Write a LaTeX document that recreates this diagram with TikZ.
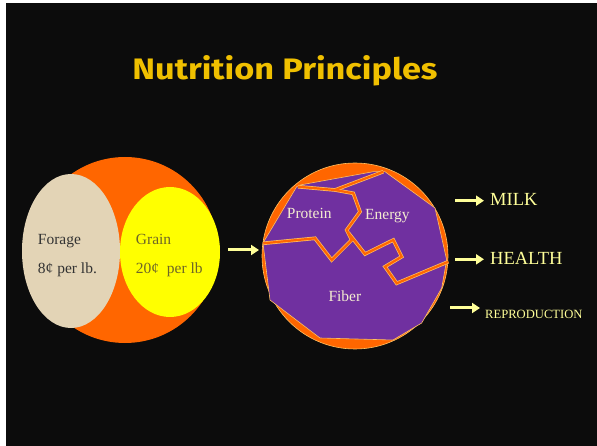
\documentclass[tikz,border=0pt]{standalone}
\usepackage{fontspec}
\setmainfont{Liberation Serif}
\newfontfamily\titlefont{Fira Sans}
\usetikzlibrary{arrows.meta}
\definecolor{bgc}{HTML}{0C0C0C}
\definecolor{titlec}{HTML}{F0C000}
\definecolor{orng}{HTML}{FF6600}
\definecolor{purp}{HTML}{7030A0}
\definecolor{forage}{HTML}{E3D4B6}
\definecolor{grain}{HTML}{FFFF00}
\definecolor{grtext}{HTML}{6E6628}
\definecolor{frtext}{HTML}{333333}
\definecolor{arr}{HTML}{FFFF99}
\definecolor{edge}{HTML}{FFC060}
\definecolor{lbl}{HTML}{F4ECD0}
\tikzset{
  lab/.style={anchor=base west, inner sep=0pt, font=\fontsize{15.5}{18}\selectfont},
  outlab/.style={anchor=base west, inner sep=0pt, text=arr, font=\fontsize{18.5}{22}\selectfont},
  flow/.style={draw=arr, line width=3pt, -{Triangle[length=8pt,width=10pt]}},
  seam/.style={draw=edge, line width=3.6pt, line join=miter},
  seamin/.style={draw=orng, line width=2.2pt, line join=miter}
}
\begin{document}
\begin{tikzpicture}[x=1pt,y=-1pt]
\useasboundingbox (0,0) rectangle (597,446);
\fill[white] (0,0) rectangle (597,446);
\fill[bgc] (6,3) rectangle (597,446);
% title
\node[anchor=base, inner sep=0pt, text=titlec] (title) at (285,80)
  {\resizebox{305pt}{24pt}{\titlefont\bfseries Nutrition Principles}};
% left diagram
\fill[orng] (125,250) circle (93);
\fill[forage] (71,251) ellipse (49 and 77);
\fill[grain] (170,252) ellipse (50 and 65);
\node[lab, text=frtext] (forage) at (37.7,244.3) {Forage};
\node[lab, text=frtext] (fcost) at (37.7,274) {8¢ per lb.};
\node[lab, text=grtext] (grain) at (135.7,244.3) {Grain};
\node[lab, text=grtext] (gcost) at (135.7,274) {20¢\ \ per lb};
% arrow into right diagram
\coordinate (a0) at (228,250);
\coordinate (a1) at (259,250);
\draw[flow] (a0) -- (a1);
% right diagram
\fill[orng] (355,256) circle (93);
\draw[edge, line width=0.6pt] (355,256) circle (93);
\filldraw[fill=purp, draw=edge, line width=0.6pt]
  (300,185) -- (373.3,171.7) -- (385,171.7) -- (435,208) -- (446.7,260)
  -- (441.7,288) -- (421.7,323) -- (393,340) -- (320,338) -- (270,300)
  -- (263,243) -- (296.7,186.7) -- cycle;
\foreach \s in {seam,seamin}{
  \draw[\s] (298,186.7) -- (335,190) -- (353.3,193.3) -- (360,211.7) -- (346.7,230)
    -- (351.7,240) -- (331.7,260) -- (315,238.3) -- (263.3,243.3);
  \draw[\s] (335,190) -- (383.3,171.7);
  \draw[\s] (348.5,233) -- (365,254) -- (393.3,240) -- (401.7,256.7) -- (385,266.7)
    -- (396.7,283.3) -- (448.3,261.7);
}
\node[lab, text=lbl] (protein) at (286.7,218.3) {Protein};
\node[lab, text=lbl] (energy) at (365,220) {Energy};
\node[lab, text=lbl] (fiber) at (328.3,301.7) {Fiber};
% outputs
\coordinate (m0) at (455,200.7); \coordinate (m1) at (484,200.7);
\coordinate (h0) at (455,259.3); \coordinate (h1) at (484,259.3);
\coordinate (r0) at (450,308);   \coordinate (r1) at (480,308);
\draw[flow] (m0) -- (m1);
\draw[flow] (h0) -- (h1);
\draw[flow] (r0) -- (r1);
\node[outlab] (milk) at (490,206) {MILK};
\node[outlab] (health) at (490,265) {HEALTH};
\node[outlab, font=\fontsize{12.6}{15}\selectfont] (repro) at (485,318.3) {REPRODUCTION};
\end{tikzpicture}
\end{document}
